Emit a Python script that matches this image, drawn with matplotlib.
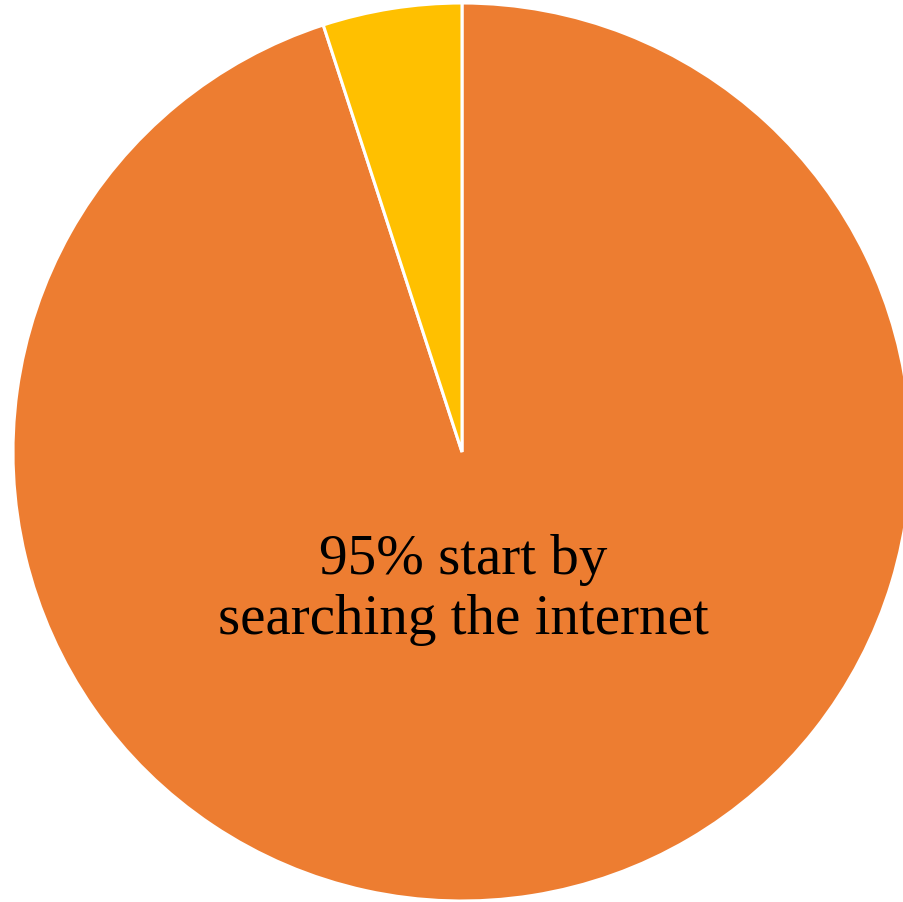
import matplotlib.pyplot as plt

# data
labels = ['Start by searching the internet', 'Other']
shares = [95, 5]
colors = ['#ED7D31', '#FFC000']
label_text = '95% start by\nsearching the internet'

W, H = 904, 902
fig = plt.figure(figsize=(W / 100, H / 100), dpi=100)

# pie centre at (462, 452) px, radius ~449 px
cx, cy, r = 462, 452, 449
ax = fig.add_axes([(cx - r) / W, (H - cy - r) / H, 2 * r / W, 2 * r / H])
ax.axis('off')

ax.pie(shares, colors=colors, startangle=90, counterclock=False,
       radius=1, wedgeprops=dict(edgecolor='white', linewidth=2.2))
ax.set_xlim(-1, 1)
ax.set_ylim(-1, 1)

fig.text(463 / W, 1 - 590 / H, label_text, ha='center', va='center',
         fontsize=41, family='Liberation Serif', linespacing=1.22)

fig.savefig('out.png', dpi=100)
